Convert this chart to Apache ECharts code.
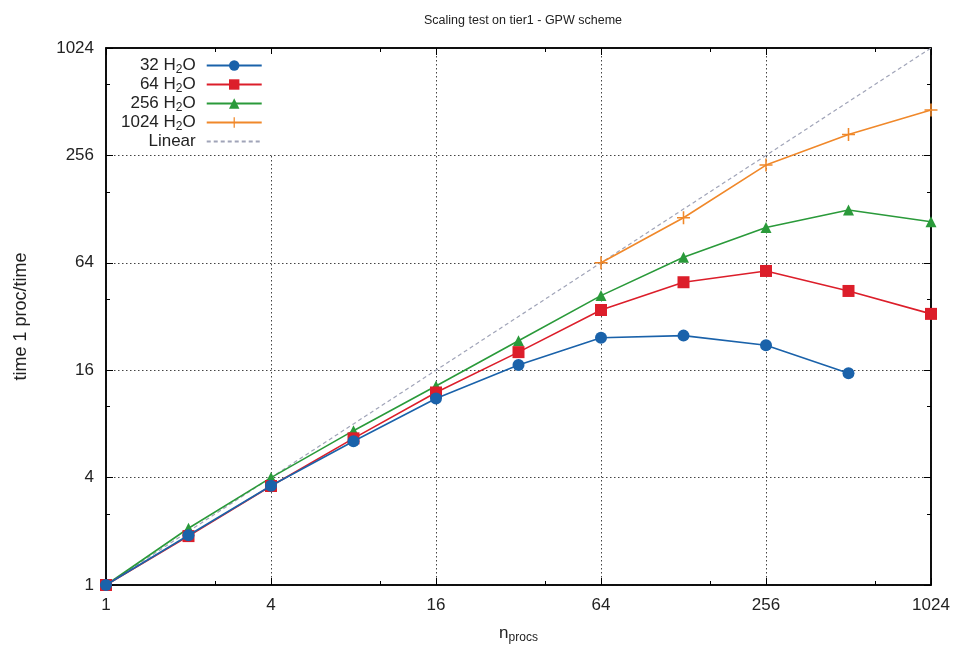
<!DOCTYPE html>
<html><head><meta charset="utf-8">
<script src="https://cdn.jsdelivr.net/npm/echarts@6/dist/echarts.min.js"></script>
<style>html,body{margin:0;padding:0;background:#fff}#c{width:956px;height:646px}</style>
</head><body><div id="c"></div>
<script>
const procs = [1, 2, 4, 8, 16, 32, 64, 128, 256, 512, 1024];
const h2o32 = [1, 1.9, 3.6, 6.4, 11.1, 17.1, 24.3, 25.0, 22.1, 15.4, null];
const h2o64 = [1, 1.88, 3.59, 6.64, 12.0, 20.2, 34.8, 49.8, 57.6, 44.5, 33.1];
const h2o256 = [1, 2.08, 4.0, 7.33, 13.05, 23.4, 41.9, 68.7, 101, 126.5, 108.8];
const h2o1024 = [null, null, null, null, null, null, 64, 114.5, 226, 335, 460];
const linear = [1, 2, 4, 8, 16, 32, 64, 128, 256, 512, 1024];
const seriesNames = ['32 H2O', '64 H2O', '256 H2O', '1024 H2O', 'Linear'];
const tickValues = [1, 4, 16, 64, 256, 1024];

function pairs(ys) {
  const out = [];
  procs.forEach((x, i) => { if (ys[i] != null) out.push([x, ys[i]]); });
  return out;
}
const font = '"Liberation Sans", Arial, sans-serif';
const plusPath = 'path://M4.4,0h1.2v4.4h4.4v1.2h-4.4v4.4h-1.2v-4.4h-4.4v-1.2h4.4z';

const chart = echarts.init(document.getElementById('c'), null, {renderer: 'canvas'});
function logAxis(pos, show) {
  return {
    type: 'log', logBase: 2, min: 1, max: 1024, interval: 2, position: pos,
    axisLine: {show: true, onZero: false, lineStyle: {color: '#000', width: 1.5}},
    axisTick: {show: true, inside: true, length: 7, lineStyle: {color: '#000', width: 1}},
    minorTick: {show: true, splitNumber: 2, length: 4, lineStyle: {color: '#000', width: 1}},
    axisLabel: {show: show, color: '#222', fontSize: 17, fontFamily: font, margin: 12,
      formatter: v => String(Math.round(v))},
    splitLine: {show: show, lineStyle: {color: '#444', type: [1.5, 2.5], width: 1}},
    minorSplitLine: {show: false}
  };
}
const xMain = logAxis('bottom', true);
xMain.name = '{n|n}{s|procs}';
xMain.nameLocation = 'middle';
xMain.nameGap = 38;
xMain.nameTextStyle = {color: '#222', fontFamily: font, rich: {n: {fontSize: 17, fontFamily: font, color: '#222'}, s: {fontSize: 12, fontFamily: font, color: '#222', padding: [9, 0, 0, 0]}}};
const yMain = logAxis('left', true);
yMain.name = 'time 1 proc/time';
yMain.nameLocation = 'middle';
yMain.nameGap = 76;
yMain.nameTextStyle = {color: '#222', fontSize: 18, fontFamily: font};
const xTop = logAxis('top', false);
const yRight = logAxis('right', false);

const legendRich = {sub: {fontSize: 12, fontFamily: font, color: '#222', padding: [9, 0, 0, 0]}};
function legendFmt(name) {
  if (name === 'Linear') return name;
  return name.replace('H2O', 'H{sub|2}O');
}

const colors = ['#1a62aa', '#dc1e2a', '#2a9a3a', '#f0882a', '#a0a4b8'];
const symbols = ['circle', 'rect', 'triangle', plusPath, 'none'];
const sizes = [12, 12, 11, 13, 0];
const datas = [h2o32, h2o64, h2o256, h2o1024, linear];

const series = seriesNames.map((n, i) => ({
  name: n, type: 'line', xAxisIndex: 0, yAxisIndex: 0,
  data: pairs(datas[i]),
  symbol: symbols[i], symbolSize: sizes[i], showSymbol: i < 4,
  z: i === 4 ? 1 : 2 + (3 - i),
  lineStyle: {color: colors[i], width: i === 4 ? 1.2 : 1.6, type: i === 4 ? [4, 3] : 'solid'},
  itemStyle: {color: colors[i]}
}));

chart.setOption({
  animation: false,
  backgroundColor: '#fff',
  title: {
    text: 'Scaling test on tier1 - GPW scheme', left: 518, top: 9, textAlign: 'center',
    textStyle: {fontSize: 12.5, fontWeight: 'normal', color: '#222', fontFamily: font}
  },
  grid: {left: 106, right: 25, top: 48, bottom: 61, show: true, borderColor: '#000', borderWidth: 1.5,
    containLabel: false, outerBoundsMode: 'none'},
  legend: {
    orient: 'vertical', align: 'right', left: 117, top: 54, itemGap: 0,
    itemWidth: 55, itemHeight: 13, backgroundColor: '#fff', padding: [3, 12, 4, 4],
    data: seriesNames.map(n => n === 'Linear' ? {name: n, itemStyle: {color: 'rgba(0,0,0,0)', borderWidth: 0, opacity: 0}} : n),
    formatter: legendFmt,
    textStyle: {fontSize: 17, fontFamily: font, color: '#222', padding: [0, 6, 0, 0], rich: legendRich}
  },
  xAxis: [xMain, xTop],
  yAxis: [yMain, yRight],
  series: series
});
</script></body></html>
